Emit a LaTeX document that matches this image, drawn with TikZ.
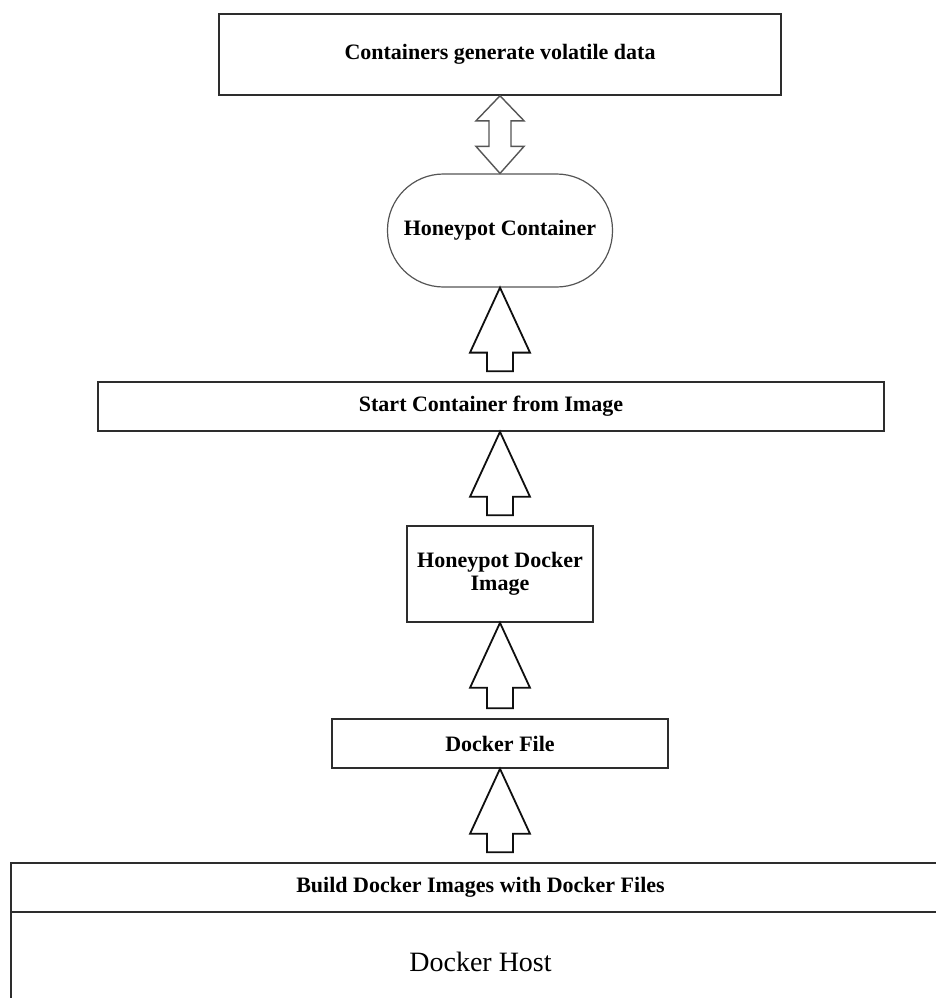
\documentclass[tikz,border=0pt]{standalone}
\usepackage{fontspec}
\setmainfont{Liberation Serif}
\usetikzlibrary{calc}
\usepackage{xcolor}
\definecolor{bLine}{RGB}{45, 45, 45}
\definecolor{bArrow}{RGB}{15, 15, 15}
\definecolor{bTwin}{RGB}{85, 85, 85}

\begin{document}
\begin{tikzpicture}[
    x=1pt, y=-1pt,
    font=\fontsize{22}{24}\selectfont\bfseries,
    block/.style={
        draw=bLine,
        line width=1.6pt,
        align=center,
        inner sep=0pt,
        minimum width=#1
    },
    upblock/.style={
        draw=bArrow, fill=white, line width=1.8pt, line join=miter,
        to path={
            let \p1=(\tikztostart), \p2=(\tikztotarget) in
            (\x1-13pt,\y1+10pt) -- (\x1-13pt,\y2-65pt) -- (\x1-30pt,\y2-65pt)
            -- (\x1,\y2) -- (\x1+30pt,\y2-65pt) -- (\x1+13pt,\y2-65pt)
            -- (\x1+13pt,\y1+10pt) -- cycle
        }
    },
    twinblock/.style={
        draw=bTwin, fill=white, line width=1.4pt, line join=miter,
        to path={
            let \p1=(\tikztostart), \p2=(\tikztotarget) in
            (\x1,\y1) -- (\x1-24pt,\y1+27pt) -- (\x1-11pt,\y1+27pt)
            -- (\x1-11pt,\y2-25pt) -- (\x1-24pt,\y2-25pt) -- (\x1,\y2)
            -- (\x1+24pt,\y2-25pt) -- (\x1+11pt,\y2-25pt)
            -- (\x1+11pt,\y1+27pt) -- (\x1+24pt,\y1+27pt) -- cycle
        }
    }
]

\fill[white] (0,0) rectangle (935,998);
\useasboundingbox (0,0) rectangle (935,998);

\node[block=562pt, minimum height=81pt] (volatile) at (500, 54.5) {Containers generate volatile data};

\node[block=225pt, minimum height=113pt, rounded corners=56pt, draw=bTwin, line width=1.2pt] (hcont) at (500, 230.5) {Honeypot Container};

\node[block=786pt, minimum height=49pt] (start) at (491, 406.5) {Start Container from Image};

\node[block=186pt, minimum height=96pt, font=\fontsize{22}{23}\selectfont\bfseries] (dimage) at (500, 574) {Honeypot Docker\\Image};

\node[block=336pt, minimum height=49pt] (dfile) at (500, 743.5) {Docker File};

\node[block=939pt, minimum height=49pt] (build) at (480.5, 887.5) {Build Docker Images with Docker Files};

\node[block=939pt, minimum height=100pt, font=\fontsize{28}{30}\selectfont] (host) at (480.5, 962) {Docker Host};

\draw[twinblock] (hcont.north) to (volatile.south);
\draw[upblock] (hcont.south |- start.north) to (hcont.south);
\draw[upblock] (dimage.north) to (dimage.north |- start.south);
\draw[upblock] (dfile.north) to (dimage.south);
\draw[upblock] (dfile.south |- build.north) to (dfile.south);

\end{tikzpicture}
\end{document}
